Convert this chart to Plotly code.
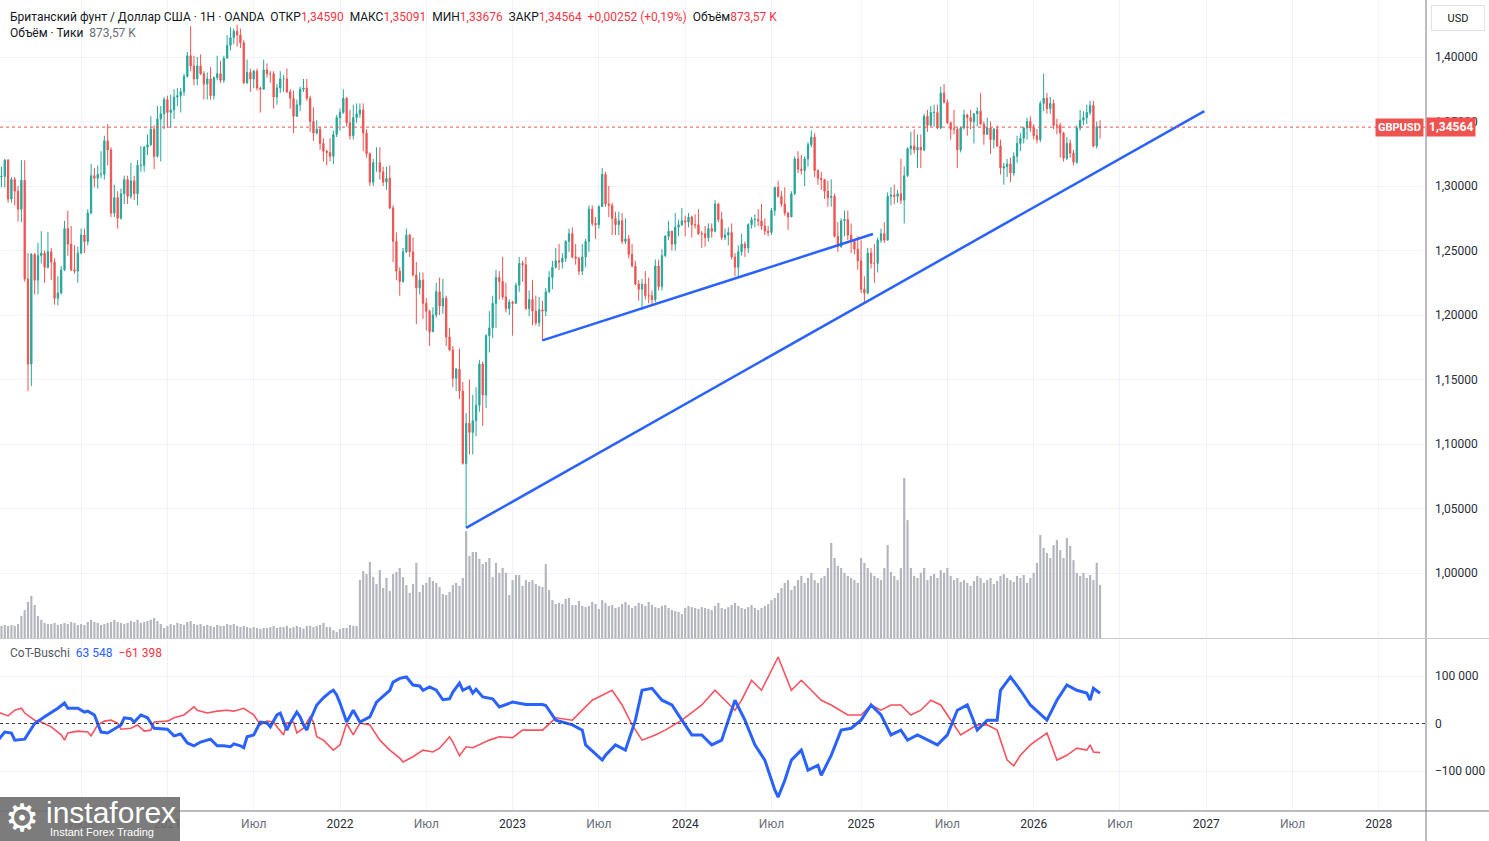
import pandas as pd
import plotly.graph_objects as go

# ---------------- DATA (weekly GBPUSD, weeks start 2020-01-13) ----------------
first_open = 1.3095

close_2020 = [1.3070, 1.3075, 1.3200, 1.2900, 1.3050, 1.2960, 1.2820, 1.3045, 1.2280, 1.1620,
              1.2470, 1.2270, 1.2460, 1.2480, 1.2370, 1.2490, 1.2410, 1.2130, 1.2170, 1.2350,
              1.2670, 1.2550, 1.2350, 1.2340, 1.2480, 1.2620, 1.2570, 1.2790, 1.3080, 1.3060,
              1.3090, 1.3090, 1.3350, 1.3280, 1.2790, 1.2910, 1.2750, 1.2940, 1.3050, 1.2920,
              1.3040, 1.2940, 1.3160, 1.3160, 1.3300, 1.3320, 1.3440, 1.3230, 1.3520, 1.3560, 1.3670]
high_2020 = [1.3120, 1.3150, 1.3210, 1.3210, 1.3070, 1.3070, 1.3000, 1.3200, 1.3200, 1.2480,
             1.2480, 1.2480, 1.2560, 1.2650, 1.2500, 1.2645, 1.2520, 1.2440, 1.2300, 1.2380,
             1.2730, 1.2810, 1.2690, 1.2540, 1.2530, 1.2670, 1.2670, 1.2820, 1.3170, 1.3140,
             1.3160, 1.3270, 1.3390, 1.3480, 1.3300, 1.3010, 1.2960, 1.2980, 1.3080, 1.3080,
             1.3180, 1.3080, 1.3200, 1.3310, 1.3310, 1.3400, 1.3540, 1.3470, 1.3620, 1.3620, 1.3690]
low_2020 = [1.2960, 1.2990, 1.2990, 1.2870, 1.2870, 1.2850, 1.2725, 1.2720, 1.2260, 1.1410,
            1.1450, 1.2160, 1.2160, 1.2400, 1.2250, 1.2360, 1.2270, 1.2080, 1.2075, 1.2160,
            1.2340, 1.2460, 1.2340, 1.2320, 1.2250, 1.2470, 1.2480, 1.2540, 1.2780, 1.2990,
            1.2980, 1.3060, 1.3050, 1.3160, 1.2760, 1.2760, 1.2670, 1.2740, 1.2860, 1.2860,
            1.2900, 1.2890, 1.2850, 1.3110, 1.3110, 1.3240, 1.3310, 1.3130, 1.3220, 1.3190, 1.3440]

close_2021 = [1.3570, 1.3590, 1.3690, 1.3700, 1.3730, 1.3850, 1.4010, 1.3930, 1.3830, 1.3930,
              1.3870, 1.3790, 1.3830, 1.3700, 1.3840, 1.3870, 1.3820, 1.3990, 1.4090, 1.4150,
              1.4200, 1.4170, 1.4110, 1.3800, 1.3880, 1.3830, 1.3890, 1.3760, 1.3750, 1.3900,
              1.3870, 1.3870, 1.3690, 1.3760, 1.3830, 1.3830, 1.3730, 1.3680, 1.3540, 1.3630,
              1.3750, 1.3760, 1.3680, 1.3500, 1.3410, 1.3440, 1.3330, 1.3270, 1.3260, 1.3230,
              1.3400, 1.3530]
high_2021 = [1.3700, 1.3710, 1.3750, 1.3760, 1.3760, 1.3870, 1.4040, 1.4240, 1.4010, 1.4000,
             1.4020, 1.3890, 1.3880, 1.3920, 1.3850, 1.4010, 1.3970, 1.4010, 1.4170, 1.4230,
             1.4220, 1.4250, 1.4220, 1.4130, 1.3980, 1.3910, 1.3900, 1.3910, 1.3770, 1.3980,
             1.3950, 1.3890, 1.3890, 1.3790, 1.3890, 1.3860, 1.3910, 1.3750, 1.3740, 1.3670,
             1.3770, 1.3830, 1.3830, 1.3700, 1.3610, 1.3510, 1.3460, 1.3370, 1.3280, 1.3370,
             1.3430, 1.3550]
low_2021 = [1.3450, 1.3450, 1.3520, 1.3620, 1.3570, 1.3700, 1.3840, 1.3890, 1.3780, 1.3780,
            1.3860, 1.3670, 1.3670, 1.3670, 1.3670, 1.3820, 1.3800, 1.3800, 1.3990, 1.4050,
            1.4100, 1.4080, 1.4070, 1.3790, 1.3790, 1.3730, 1.3760, 1.3740, 1.3570, 1.3750,
            1.3840, 1.3800, 1.3600, 1.3630, 1.3720, 1.3730, 1.3720, 1.3600, 1.3410, 1.3540,
            1.3580, 1.3730, 1.3660, 1.3420, 1.3350, 1.3400, 1.3280, 1.3190, 1.3160, 1.3190,
            1.3170, 1.3380]

close_2022 = [1.3570, 1.3680, 1.3490, 1.3390, 1.3530, 1.3560, 1.3590, 1.3410, 1.3250, 1.3030,
              1.3180, 1.3180, 1.3110, 1.3030, 1.3060, 1.2830, 1.2570, 1.2340, 1.2260, 1.2490,
              1.2620, 1.2490, 1.2310, 1.2210, 1.2270, 1.2090, 1.2030, 1.1870, 1.2000, 1.2180,
              1.2070, 1.2130, 1.1830, 1.1730, 1.1510, 1.1580, 1.1410, 1.0850, 1.1160, 1.1090,
              1.1180, 1.1300, 1.1620, 1.1380, 1.1840, 1.1900, 1.2090, 1.2290, 1.2260, 1.2140,
              1.2050, 1.2100]
high_2022 = [1.3600, 1.3750, 1.3690, 1.3590, 1.3630, 1.3640, 1.3640, 1.3640, 1.3440, 1.3260,
             1.3210, 1.3300, 1.3300, 1.3150, 1.3150, 1.3160, 1.2850, 1.2640, 1.2370, 1.2520,
             1.2670, 1.2630, 1.2600, 1.2410, 1.2330, 1.2330, 1.2130, 1.2040, 1.2060, 1.2250,
             1.2290, 1.2280, 1.2150, 1.1900, 1.1760, 1.1590, 1.1740, 1.1480, 1.1240, 1.1500,
             1.1380, 1.1440, 1.1650, 1.1640, 1.1850, 1.2030, 1.2150, 1.2350, 1.2340, 1.2450,
             1.2250, 1.2120]
low_2022 = [1.3430, 1.3560, 1.3460, 1.3360, 1.3360, 1.3490, 1.3530, 1.3270, 1.3220, 1.3000,
            1.3000, 1.3110, 1.3050, 1.3000, 1.2970, 1.2820, 1.2410, 1.2270, 1.2150, 1.2250,
            1.2480, 1.2450, 1.2300, 1.1930, 1.2160, 1.1970, 1.1880, 1.1760, 1.1870, 1.1980,
            1.2000, 1.2010, 1.1760, 1.1720, 1.1440, 1.1410, 1.1350, 1.0840, 1.0350, 1.0920,
            1.0920, 1.1060, 1.1250, 1.1140, 1.1280, 1.1710, 1.1820, 1.1900, 1.2120, 1.2120,
            1.2020, 1.2000]

close_2023 = [1.2090, 1.2230, 1.2400, 1.2390, 1.2050, 1.2120, 1.2030, 1.1940, 1.2040, 1.2030,
              1.2180, 1.2290, 1.2370, 1.2420, 1.2410, 1.2440, 1.2570, 1.2630, 1.2450, 1.2440,
              1.2340, 1.2450, 1.2570, 1.2820, 1.2710, 1.2700, 1.2840, 1.3090, 1.2860, 1.2850,
              1.2750, 1.2700, 1.2730, 1.2570, 1.2590, 1.2470, 1.2380, 1.2240, 1.2200, 1.2240,
              1.2150, 1.2150, 1.2120, 1.2380, 1.2220, 1.2460, 1.2610, 1.2650, 1.2550, 1.2680,
              1.2700, 1.2730]
high_2023 = [1.2110, 1.2250, 1.2450, 1.2420, 1.2450, 1.2190, 1.2270, 1.2150, 1.2140, 1.2110,
             1.2210, 1.2340, 1.2420, 1.2520, 1.2550, 1.2480, 1.2580, 1.2670, 1.2680, 1.2550,
             1.2450, 1.2550, 1.2590, 1.2850, 1.2850, 1.2760, 1.2850, 1.3140, 1.3110, 1.3000,
             1.2870, 1.2800, 1.2800, 1.2790, 1.2750, 1.2620, 1.2550, 1.2420, 1.2270, 1.2280,
             1.2340, 1.2290, 1.2190, 1.2430, 1.2430, 1.2510, 1.2620, 1.2730, 1.2650, 1.2790,
             1.2740, 1.2830]
low_2023 = [1.1840, 1.2090, 1.2180, 1.2260, 1.2040, 1.1990, 1.1920, 1.1920, 1.1910, 1.1800,
            1.1990, 1.2170, 1.2200, 1.2360, 1.2350, 1.2360, 1.2410, 1.2490, 1.2440, 1.2390,
            1.2310, 1.2310, 1.2370, 1.2490, 1.2690, 1.2590, 1.2670, 1.2840, 1.2840, 1.2760,
            1.2620, 1.2620, 1.2620, 1.2550, 1.2550, 1.2440, 1.2370, 1.2230, 1.2110, 1.2040,
            1.2120, 1.2090, 1.2070, 1.2100, 1.2190, 1.2190, 1.2450, 1.2580, 1.2500, 1.2500,
            1.2610, 1.2690]

close_2024 = [1.2720, 1.2760, 1.2700, 1.2700, 1.2630, 1.2630, 1.2600, 1.2670, 1.2650, 1.2860,
              1.2740, 1.2600, 1.2620, 1.2640, 1.2450, 1.2370, 1.2490, 1.2550, 1.2520, 1.2700,
              1.2740, 1.2740, 1.2730, 1.2690, 1.2650, 1.2640, 1.2810, 1.2990, 1.2920, 1.2860,
              1.2790, 1.2760, 1.2940, 1.3210, 1.3130, 1.3120, 1.3210, 1.3320, 1.3380, 1.3120,
              1.3060, 1.3050, 1.2960, 1.2910, 1.2920, 1.2610, 1.2530, 1.2730, 1.2740, 1.2620,
              1.2570, 1.2510, 1.2420]
high_2024 = [1.2770, 1.2790, 1.2770, 1.2780, 1.2820, 1.2650, 1.2690, 1.2710, 1.2710, 1.2890,
             1.2870, 1.2800, 1.2670, 1.2680, 1.2710, 1.2480, 1.2540, 1.2630, 1.2570, 1.2710,
             1.2760, 1.2780, 1.2820, 1.2860, 1.2750, 1.2690, 1.2830, 1.2990, 1.3040, 1.2960,
             1.2990, 1.2800, 1.2960, 1.3230, 1.3270, 1.3240, 1.3230, 1.3340, 1.3430, 1.3410,
             1.3130, 1.3110, 1.3050, 1.3040, 1.3050, 1.2940, 1.2720, 1.2750, 1.2810, 1.2810,
             1.2710, 1.2580, 1.2610]
low_2024 = [1.2610, 1.2680, 1.2600, 1.2670, 1.2620, 1.2520, 1.2530, 1.2570, 1.2600, 1.2640,
            1.2720, 1.2580, 1.2580, 1.2540, 1.2430, 1.2300, 1.2300, 1.2460, 1.2450, 1.2480,
            1.2670, 1.2680, 1.2690, 1.2660, 1.2620, 1.2610, 1.2620, 1.2770, 1.2910, 1.2840,
            1.2770, 1.2660, 1.2760, 1.2930, 1.3100, 1.3090, 1.3000, 1.3150, 1.3300, 1.3070,
            1.3010, 1.2970, 1.2900, 1.2840, 1.2840, 1.2600, 1.2490, 1.2520, 1.2610, 1.2580,
            1.2480, 1.2470, 1.2350]

close_2025 = [1.2200, 1.2170, 1.2480, 1.2400, 1.2400, 1.2580, 1.2630, 1.2580, 1.2920, 1.2930,
              1.2920, 1.2940, 1.2890, 1.3080, 1.3290, 1.3310, 1.3280, 1.3300, 1.3280, 1.3540,
              1.3470, 1.3570, 1.3570, 1.3450, 1.3720, 1.3650, 1.3490, 1.3440, 1.3440, 1.3280,
              1.3450, 1.3550, 1.3530, 1.3500, 1.3560, 1.3580, 1.3480, 1.3400, 1.3450, 1.3360,
              1.3440, 1.3310, 1.3140, 1.3150, 1.3170, 1.3100, 1.3230, 1.3330, 1.3370, 1.3450,
              1.3500, 1.3450]
high_2025 = [1.2580, 1.2300, 1.2520, 1.2520, 1.2550, 1.2600, 1.2670, 1.2720, 1.2950, 1.2990,
             1.3010, 1.2970, 1.3210, 1.3150, 1.3300, 1.3420, 1.3440, 1.3400, 1.3400, 1.3560,
             1.3590, 1.3620, 1.3630, 1.3630, 1.3770, 1.3790, 1.3670, 1.3500, 1.3590, 1.3460,
             1.3460, 1.3590, 1.3560, 1.3590, 1.3560, 1.3610, 1.3720, 1.3500, 1.3530, 1.3500,
             1.3450, 1.3470, 1.3360, 1.3180, 1.3210, 1.3220, 1.3260, 1.3390, 1.3410, 1.3460,
             1.3530, 1.3540]
low_2025 = [1.2170, 1.2100, 1.2160, 1.2360, 1.2250, 1.2330, 1.2560, 1.2560, 1.2580, 1.2850,
            1.2860, 1.2870, 1.2860, 1.2710, 1.3070, 1.3240, 1.3250, 1.3140, 1.3140, 1.3270,
            1.3420, 1.3460, 1.3460, 1.3440, 1.3440, 1.3640, 1.3480, 1.3360, 1.3400, 1.3140,
            1.3260, 1.3440, 1.3390, 1.3440, 1.3330, 1.3460, 1.3470, 1.3320, 1.3400, 1.3250,
            1.3290, 1.3300, 1.3090, 1.3010, 1.3070, 1.3030, 1.3080, 1.3180, 1.3270, 1.3330,
            1.3360, 1.3420]

close_2026 = [1.3390, 1.3360, 1.3640, 1.3680, 1.3600, 1.3640, 1.3470, 1.3470, 1.3410, 1.3215,
              1.3330, 1.3255, 1.3185, 1.3450, 1.3510, 1.3530, 1.3570, 1.3625, 1.3310, 1.3459,
              1.34564]
high_2026 = [1.3480, 1.3440, 1.3660, 1.3870, 1.3720, 1.3690, 1.3670, 1.3520, 1.3490, 1.3420,
             1.3380, 1.3360, 1.3280, 1.3470, 1.3590, 1.3580, 1.3630, 1.3660, 1.3660, 1.3500,
             1.35091]
low_2026 = [1.3360, 1.3330, 1.3340, 1.3580, 1.3560, 1.3560, 1.3440, 1.3400, 1.3220, 1.3190,
            1.3200, 1.3220, 1.3160, 1.3170, 1.3430, 1.3470, 1.3480, 1.3550, 1.3300, 1.3290,
            1.33676]

# tick volume, thousands
vol_2020 = [180, 200, 215, 200, 215, 200, 230, 365, 460, 595, 695, 545, 365, 300, 250, 230, 230,
            250, 215, 230, 250, 230, 265, 250, 215, 230, 215, 265, 300, 265, 250, 215, 230, 250,
            265, 300, 265, 250, 230, 250, 280, 265, 300, 250, 265, 280, 300, 330, 280, 230, 165]
vol_2021 = [200, 230, 215, 250, 230, 215, 265, 280, 230, 215, 230, 200, 215, 200, 180, 215, 200,
            200, 230, 215, 230, 200, 180, 200, 180, 165, 180, 165, 150, 165, 165, 180, 200, 165,
            180, 180, 200, 165, 180, 200, 180, 155, 200, 200, 180, 200, 215, 250, 180, 180, 130, 100]
vol_2022 = [150, 165, 165, 215, 200, 200, 955, 1105, 1055, 1255, 1005, 890, 1120, 825, 990, 775,
            1055, 1090, 1155, 1005, 875, 745, 890, 1240, 760, 875, 910, 1005, 940, 910, 840, 725,
            710, 760, 875, 910, 860, 990, 1765, 1355, 1420, 1420, 1305, 1220, 1255, 1320, 1005,
            1240, 1075, 1155, 1075, 710]
vol_2023 = [955, 1040, 1040, 860, 955, 925, 955, 890, 860, 840, 1220, 790, 625, 560, 580, 560, 645,
            660, 545, 545, 610, 530, 510, 530, 595, 560, 480, 625, 580, 530, 545, 495, 510, 560,
            595, 545, 495, 530, 580, 560, 530, 595, 545, 510, 495, 530, 545, 495, 460, 445, 430, 395]
vol_2024 = [495, 530, 510, 495, 480, 510, 495, 480, 460, 530, 580, 495, 480, 510, 545, 580, 530,
            495, 480, 510, 545, 495, 460, 495, 530, 560, 625, 660, 745, 825, 910, 955, 790, 860,
            955, 1025, 910, 990, 1075, 955, 910, 990, 1025, 1155, 1570, 1320, 1190, 1155, 1075,
            1025, 990, 955, 910]
vol_2025 = [1320, 1240, 1155, 1075, 1025, 990, 955, 1155, 1535, 1090, 1025, 955, 1155, 2640, 1945,
            1155, 1025, 990, 1075, 1155, 955, 1025, 1055, 990, 1120, 1075, 1155, 1025, 955, 990,
            925, 955, 910, 860, 940, 1025, 990, 910, 955, 990, 890, 940, 1025, 1055, 990, 955, 925,
            1025, 990, 1040, 910, 990]
vol_2026 = [1075, 1240, 1700, 1485, 1400, 1320, 1535, 1615, 1450, 1320, 1650, 1520, 1285, 1075,
            1025, 1075, 990, 1040, 955, 1240, 873.57]

# CoT-Buschi lines: (week index from 2020-01-13, value)
cot_blue_points = [(0, -35000), (2, -18000), (4, -20000), (5, -35000), (8, -33000), (11, 0), (14, 14000),
    (18, 32000), (20, 43000), (21, 32000), (24, 32000), (26, 24000), (27, 26000), (29, 18000),
    (31, -18000), (33, -20000), (37, -3000), (38, 12000), (40, 10000), (41, 3000), (43, 18000),
    (45, 12000), (47, -10000), (51, -12000), (53, -26000), (55, -22000), (57, -41000), (59, -47000),
    (61, -39000), (64, -33000), (66, -47000), (68, -47000), (70, -49000), (71, -43000), (73, -47000),
    (74, -51000), (75, -28000), (77, -24000), (79, 3000), (81, 1000), (82, -7000), (84, 18000),
    (85, 22000), (87, -14000), (88, 1000), (90, 24000), (91, 14000), (92, -3000), (93, -14000),
    (94, 7000), (96, 39000), (98, 54000), (100, 66000), (101, 70000), (102, 60000), (103, 43000),
    (105, 3000), (107, 28000), (109, 3000), (112, 14000), (114, 45000), (118, 70000), (119, 87000),
    (121, 95000), (123, 98000), (125, 81000), (127, 79000), (128, 70000), (130, 77000), (132, 70000),
    (134, 50000), (136, 52000), (137, 66000), (139, 85000), (140, 70000), (142, 77000), (143, 64000),
    (144, 72000), (146, 56000), (149, 52000), (151, 35000), (155, 45000), (159, 40000), (164, 40000),
    (165, 38000), (168, 7000), (173, -3000), (176, -14000), (177, -45000), (182, -77000),
    (183, -67000), (186, -45000), (189, -56000), (192, 7000), (194, 70000), (197, 74000),
    (200, 49000), (203, 39000), (206, 7000), (209, -24000), (212, -24000), (215, -45000),
    (218, -35000), (222, 49000), (225, 7000), (228, -45000), (231, -77000), (234, -140000),
    (235, -155000), (237, -120000), (239, -77000), (242, -56000), (244, -98000), (247, -88000),
    (248, -109000), (251, -67000), (254, -14000), (257, -10000), (260, 7000), (263, 39000),
    (266, 18000), (269, -24000), (272, -14000), (274, -35000), (277, -24000), (280, -35000),
    (283, -45000), (286, -24000), (289, 28000), (292, 39000), (295, -14000), (298, 7000),
    (301, 7000), (302, 70000), (305, 98000), (308, 70000), (311, 39000), (316, 7000), (319, 49000),
    (322, 81000), (325, 70000), (328, 64000), (329, 49000), (330, 74000), (332, 63548)]
cot_red_points = [(0, 24000), (3, 16000), (5, 28000), (7, 32000), (8, 22000), (11, 7000), (13, 3000),
    (16, -7000), (19, -24000), (20, -35000), (21, -20000), (24, -16000), (27, -18000), (28, -26000),
    (30, -3000), (32, 5000), (34, 7000), (36, 1000), (37, -12000), (40, -10000), (42, -3000),
    (44, -16000), (46, -14000), (47, 3000), (51, 5000), (53, 12000), (56, 18000), (59, 35000),
    (60, 28000), (63, 22000), (66, 26000), (69, 28000), (71, 26000), (74, 32000), (77, 18000),
    (79, -3000), (81, 5000), (83, 3000), (84, -7000), (86, -24000), (87, 1000), (89, 3000),
    (90, -20000), (92, -10000), (94, 14000), (95, 3000), (96, -28000), (98, -35000), (101, -56000),
    (103, -45000), (105, 0), (107, -24000), (109, 1000), (112, -3000), (115, -35000), (118, -56000),
    (121, -73000), (122, -81000), (125, -70000), (128, -56000), (131, -60000), (133, -52000),
    (136, -28000), (137, -39000), (139, -68000), (141, -49000), (143, -51000), (145, -45000),
    (148, -35000), (151, -28000), (155, -30000), (158, -14000), (164, -14000), (168, 12000),
    (173, 7000), (179, 49000), (182, 60000), (185, 70000), (188, 39000), (191, -3000), (194, -35000),
    (198, -24000), (201, -14000), (206, 7000), (212, 39000), (216, 70000), (219, 49000), (222, 28000),
    (224, 49000), (227, 91000), (230, 70000), (233, 112000), (235, 140000), (239, 70000),
    (242, 91000), (245, 70000), (248, 49000), (251, 39000), (256, 18000), (260, 18000), (263, 39000),
    (266, 28000), (269, 39000), (272, 39000), (275, 18000), (278, 28000), (281, 49000), (284, 39000),
    (287, 7000), (290, -24000), (295, -3000), (298, -3000), (301, -14000), (304, -77000),
    (306, -89000), (308, -67000), (311, -45000), (316, -20000), (319, -77000), (322, -67000),
    (325, -52000), (328, -56000), (329, -45000), (330, -60000), (332, -61398)]

# hand-drawn trend lines (date, price)
trend_long_dates = ["2022-09-26", "2026-12-31"]
trend_long_prices = [1.0350, 1.3581]
trend_short_dates = ["2023-03-06", "2025-01-31"]
trend_short_prices = [1.1803, 1.2628]

last_price = 1.34564

x_tick_dates = ["2020-07-06", "2021-01-04", "2021-07-05", "2022-01-03", "2022-07-04", "2023-01-02",
                "2023-07-03", "2024-01-01", "2024-07-01", "2025-01-06", "2025-07-07", "2026-01-05",
                "2026-07-06", "2027-01-04", "2027-07-05", "2028-01-03"]
x_tick_labels = ["Июл", "2021", "Июл", "2022", "Июл", "2023", "Июл", "2024", "Июл", "2025", "Июл",
                 "2026", "Июл", "2027", "Июл", "2028"]
price_ticks = [1.00, 1.05, 1.10, 1.15, 1.20, 1.25, 1.30, 1.35, 1.40]
cot_ticks = [-100000, 0, 100000]

# ---------------- BUILD ----------------
close = close_2020 + close_2021 + close_2022 + close_2023 + close_2024 + close_2025 + close_2026
high = high_2020 + high_2021 + high_2022 + high_2023 + high_2024 + high_2025 + high_2026
low = low_2020 + low_2021 + low_2022 + low_2023 + low_2024 + low_2025 + low_2026
volume = vol_2020 + vol_2021 + vol_2022 + vol_2023 + vol_2024 + vol_2025 + vol_2026
open_ = [first_open] + close[:-1]
high = [max(h, o, c) for h, o, c in zip(high, open_, close)]
low = [min(l, o, c) for l, o, c in zip(low, open_, close)]
n = len(close)
dates = pd.date_range("2020-01-13", periods=n, freq="W-MON")
volume = (volume + [volume[-1]] * n)[:n]

start = dates[0]
blue_x = [start + pd.Timedelta(weeks=w) for w, _ in cot_blue_points]
blue_y = [v for _, v in cot_blue_points]
red_x = [start + pd.Timedelta(weeks=w) for w, _ in cot_red_points]
red_y = [v for _, v in cot_red_points]

W, H = 1489, 841
plot_w = 1426
m_b = 30
plot_h = H - m_b
px_per_day = 3.319 / 7.0
anchor = pd.Timestamp("2022-01-03")
anchor_px = 340.0
x_start = anchor - pd.Timedelta(days=anchor_px / px_per_day)
x_end = anchor + pd.Timedelta(days=(plot_w - anchor_px) / px_per_day)

def py(px):
    return 1 - px / plot_h

def pxx(px):
    return px / plot_w

UP, DOWN = "#26a69a", "#ef5350"
BLUE, RED = "#2962ff", "#f7525f"
GRID = "#f0f3fa"
TXT = "#131722"

fig = go.Figure()
fig.add_trace(go.Candlestick(
    x=dates, open=open_, high=high, low=low, close=close,
    increasing=dict(line=dict(color=UP, width=1), fillcolor=UP),
    decreasing=dict(line=dict(color=DOWN, width=1), fillcolor=DOWN),
    whiskerwidth=0, xaxis="x", yaxis="y", hoverinfo="skip"))
fig.add_trace(go.Scatter(x=trend_long_dates, y=trend_long_prices, mode="lines",
                         line=dict(color=BLUE, width=2.5), xaxis="x", yaxis="y", hoverinfo="skip"))
fig.add_trace(go.Scatter(x=trend_short_dates, y=trend_short_prices, mode="lines",
                         line=dict(color=BLUE, width=2.5), xaxis="x", yaxis="y", hoverinfo="skip"))
fig.add_trace(go.Bar(x=dates, y=volume, xaxis="x", yaxis="y3",
                     marker=dict(color="#b4b6be", line=dict(width=0)), hoverinfo="skip"))
fig.add_trace(go.Scatter(x=red_x, y=red_y, mode="lines", line=dict(color=RED, width=1.6),
                         xaxis="x", yaxis="y2", hoverinfo="skip"))
fig.add_trace(go.Scatter(x=blue_x, y=blue_y, mode="lines", line=dict(color=BLUE, width=3),
                         xaxis="x", yaxis="y2", hoverinfo="skip"))

price_lo = 1.40 - (638 - 57) / 1290.0
price_hi = 1.40 + 57 / 1290.0
cot_per_px = 200000 / 95.0
cot_hi = (723.5 - 640) * cot_per_px
cot_lo = (723.5 - 811) * cot_per_px

ticktext = []
for t in x_tick_labels:
    if t == "Июл":
        ticktext.append("<span style='color:#6a6d78'>Июл</span>")
    else:
        ticktext.append(t)

fig.update_layout(
    width=W, height=H, margin=dict(l=0, r=W - plot_w, t=0, b=m_b),
    paper_bgcolor="white", plot_bgcolor="white", showlegend=False, hovermode=False,
    separators=", ", boxgap=0.45, bargap=0.35,
    font=dict(family="Roboto, 'Open Sans', sans-serif", size=12, color=TXT),
    xaxis=dict(type="date", range=[x_start, x_end], anchor="y2", showgrid=True, gridcolor=GRID,
               tickvals=x_tick_dates, ticktext=ticktext, ticks="", showline=False, zeroline=False,
               rangeslider=dict(visible=False), tickfont=dict(size=12, color="#2a2e39"),
               ticklabelstandoff=4),
    yaxis=dict(domain=[py(638), 1], range=[price_lo, price_hi], side="right", anchor="x",
               tickvals=price_ticks, tickformat=".5f", showgrid=True, gridcolor=GRID,
               zeroline=False, ticks="", ticklabelstandoff=8, tickfont=dict(size=12, color="#2a2e39")),
    yaxis2=dict(domain=[0, py(640)], range=[cot_lo, cot_hi], side="right", anchor="x",
                tickvals=cot_ticks, tickformat=",d", showgrid=True, gridcolor=GRID, zeroline=False,
                ticks="", ticklabelstandoff=8, tickfont=dict(size=12, color="#2a2e39")),
    yaxis3=dict(overlaying="y", range=[0, 638 * 16.5], visible=False, anchor="x"),
)

shapes = [
    dict(type="line", xref="paper", yref="y", x0=0, x1=1, y0=last_price, y1=last_price,
         line=dict(color=DOWN, width=1, dash="dot")),
    dict(type="line", xref="paper", yref="y2", x0=0, x1=1, y0=0, y1=0,
         line=dict(color="#3a3d46", width=1, dash="dot")),
    dict(type="line", xref="paper", yref="paper", x0=1, x1=1, y0=py(H), y1=1,
         line=dict(color="#787b86", width=1)),
    dict(type="line", xref="paper", yref="paper", x0=0, x1=pxx(W), y0=py(638.5), y1=py(638.5),
         line=dict(color="#c8cad0", width=1)),
    dict(type="line", xref="paper", yref="paper", x0=0, x1=pxx(W), y0=0, y1=0,
         line=dict(color="#787b86", width=1)),
    dict(type="rect", xref="paper", yref="paper", x0=0, x1=pxx(180), y0=py(H), y1=py(797),
         fillcolor="rgba(110,110,110,0.9)", line=dict(width=0), layer="above"),
]
fig.update_layout(shapes=shapes)

R = "#f23645"
nb = "\u00a0"
header1 = ("Британский фунт / Доллар США · 1H · OANDA" + nb * 2 +
           f"ОТКР<span style='color:{R}'>1,34590</span>" + nb * 2 +
           f"МАКС<span style='color:{R}'>1,35091</span>" + nb * 2 +
           f"МИН<span style='color:{R}'>1,33676</span>" + nb * 2 +
           f"ЗАКР<span style='color:{R}'>1,34564</span>" + nb * 2 +
           f"<span style='color:{R}'>+0,00252 (+0,19%)</span>" + nb * 2 +
           f"Объём<span style='color:{R}'>873,57" + nb + "K</span>")
header2 = "Объём · Тики" + nb * 2 + "<span style='color:#6a6d78'>873,57" + nb + "K</span>"
cot_label = ("<span style='color:#555a66'>CoT-Buschi</span>" + nb * 2 +
             f"<span style='color:{BLUE}'>63{nb}548</span>" + nb * 2 +
             f"<span style='color:{R}'>−61{nb}398</span>")

ann = [
    dict(text=header1, x=pxx(8), y=py(17), xref="paper", yref="paper", xanchor="left",
         yanchor="middle", showarrow=False, font=dict(size=12, color=TXT)),
    dict(text=header2, x=pxx(8), y=py(33), xref="paper", yref="paper", xanchor="left",
         yanchor="middle", showarrow=False, font=dict(size=12, color=TXT)),
    dict(text=cot_label, x=pxx(8), y=py(653), xref="paper", yref="paper", xanchor="left",
         yanchor="middle", showarrow=False, font=dict(size=12, color=TXT)),
    dict(text="USD", x=pxx(1458), y=py(18), xref="paper", yref="paper", xanchor="center",
         yanchor="middle", showarrow=False, font=dict(size=11, color=TXT), bgcolor="white",
         bordercolor="#e0e3eb", borderwidth=1, borderpad=0, width=52, height=24),
    dict(text="<b>GBPUSD</b>", x=pxx(1424), y=last_price, xref="paper", yref="y", xanchor="right",
         yanchor="middle", showarrow=False, font=dict(size=11, color="white"), bgcolor="#ef5350",
         borderpad=2),
    dict(text="<b>1,34564</b>", x=pxx(1426), y=last_price, xref="paper", yref="y", xanchor="left",
         yanchor="middle", showarrow=False, font=dict(size=12, color="white"), bgcolor="#ef5350",
         borderpad=2),
    dict(text="⚙", x=pxx(22), y=py(818), xref="paper", yref="paper", xanchor="center",
         yanchor="middle", showarrow=False, font=dict(size=38, color="white", family="DejaVu Sans")),
    dict(text="instaforex", x=pxx(44), y=py(812), xref="paper", yref="paper", xanchor="left",
         yanchor="middle", showarrow=False, font=dict(size=30, color="white", family="Liberation Sans")),
    dict(text="Instant Forex Trading", x=pxx(48), y=py(832), xref="paper", yref="paper",
         xanchor="left", yanchor="middle", showarrow=False,
         font=dict(size=11, color="white", family="Liberation Sans")),
]
fig.update_layout(annotations=ann)

fig.write_html("out.html")
